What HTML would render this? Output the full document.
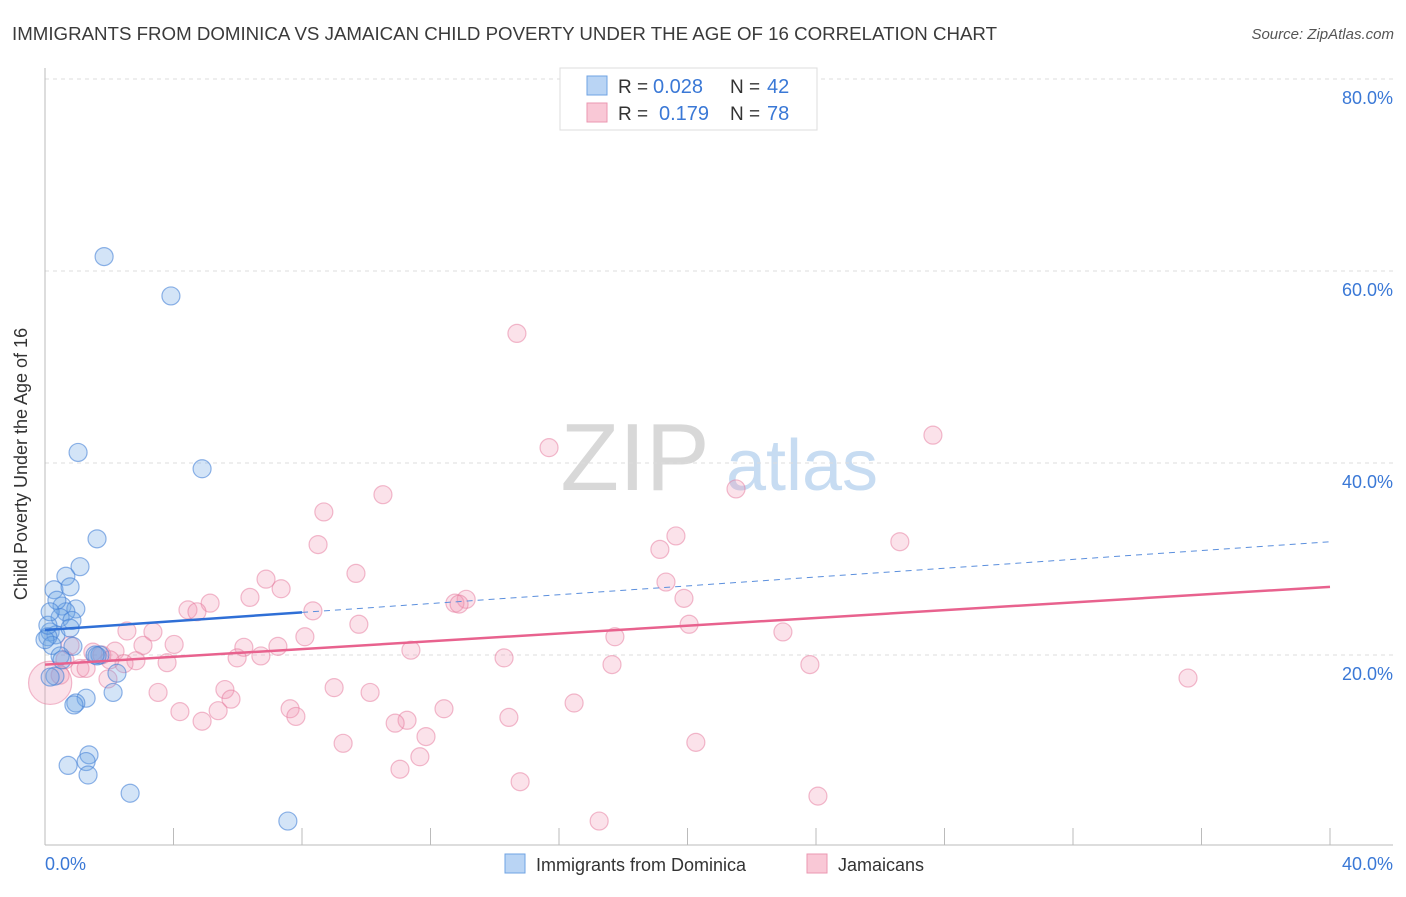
<!DOCTYPE html>
<html><head><meta charset="utf-8"><style>
body{margin:0;background:#fff;font-family:"Liberation Sans",sans-serif;}
svg text{font-family:"Liberation Sans",sans-serif;}
</style></head><body>
<svg id="chart" width="1406" height="892" viewBox="0 0 1406 892">
<text x="12" y="40" font-size="18" fill="#3a3a3a" textLength="985" lengthAdjust="spacingAndGlyphs">IMMIGRANTS FROM DOMINICA VS JAMAICAN CHILD POVERTY UNDER THE AGE OF 16 CORRELATION CHART</text>
<text x="1394" y="39" font-size="15" fill="#555" font-style="italic" text-anchor="end">Source: ZipAtlas.com</text>
<g><text x="635" y="490" font-size="96" fill="#d8d8d8" font-family="Liberation Serif" text-anchor="middle">ZIP</text><text x="802" y="490" font-size="72" fill="#c7dcf2" text-anchor="middle">atlas</text></g>
<g id="grid"></g>
<g id="axes"></g>
<g id="marks"></g>
<g id="trends"></g>
<text x="18" y="455" font-size="18" fill="#333" transform="rotate(-90 27 455)" text-anchor="middle">Child Poverty Under the Age of 16</text>
<g>
<rect x="560" y="68" width="257" height="62" fill="#fff" stroke="#ddd"/>
<rect x="587" y="76" width="20" height="19" fill="#b9d4f4" stroke="#6fa3e3"/>
<rect x="587" y="103" width="20" height="19" fill="#f9c8d6" stroke="#eb97b1"/>
<text x="618" y="93" font-size="19" fill="#333">R =</text><text x="653" y="93" font-size="20" fill="#3a78d6">0.028</text>
<text x="730" y="93" font-size="19" fill="#333">N =</text><text x="767" y="93" font-size="20" fill="#3a78d6">42</text>
<text x="618" y="120" font-size="19" fill="#333">R =</text><text x="659" y="120" font-size="20" fill="#3a78d6">0.179</text>
<text x="730" y="120" font-size="19" fill="#333">N =</text><text x="767" y="120" font-size="20" fill="#3a78d6">78</text>
</g>
<g>
<rect x="505" y="854" width="20" height="19" fill="#b9d4f4" stroke="#6fa3e3"/>
<text x="536" y="871" font-size="18" fill="#333">Immigrants from Dominica</text>
<rect x="807" y="854" width="20" height="19" fill="#f9c8d6" stroke="#eb97b1"/>
<text x="838" y="871" font-size="18" fill="#333">Jamaicans</text>
</g>
</svg>
<script>
const yTicks=[20,40,60,80];
const yTickLabels=["20.0%","40.0%","60.0%","80.0%"];
const xTickLabels=["0.0%","40.0%"];
const blueX=[1.84,3.92,1.03,4.89,1.62,1.09,0.65,0.28,0.78,0.53,0.96,0.65,0.47,0.84,0.16,0.34,0.09,0.78,0.22,0.87,1.71,1.62,0.47,0.31,0.16,2.24,2.12,1.28,0.96,0.9,1.37,1.28,0.72,1.34,2.65,7.56,0.0,0.09,0.37,0.53,1.56,0.16];
const blueY=[61.5,57.4,41.1,39.4,32.1,29.2,28.2,26.8,27.1,25.1,24.8,24.5,23.9,23.6,22.4,22.1,21.9,22.8,21.0,20.9,20.0,19.9,19.9,17.8,17.7,18.1,16.1,15.5,15.0,14.8,9.6,8.9,8.5,7.5,5.6,2.7,21.6,23.1,25.7,19.5,20.0,24.5];
const pinkX=[14.69,15.69,27.64,10.52,21.51,8.68,8.5,19.64,19.14,26.61,9.68,6.88,7.35,19.33,6.38,19.89,13.11,12.76,12.89,5.14,4.45,4.73,8.34,9.77,2.55,3.36,20.05,22.97,17.74,8.09,3.05,4.02,6.19,7.25,11.39,2.18,1.49,1.77,6.72,5.98,2.83,3.8,2.46,14.29,17.65,23.81,1.09,1.28,1.96,35.58,9.0,5.6,3.52,10.12,5.79,16.47,7.63,12.42,4.2,7.81,5.39,4.89,14.44,11.27,10.9,11.86,9.28,20.26,11.67,11.05,14.79,24.06,17.25,0.47,0.62,2.02,0.78,0.16];
const pinkY=[53.5,41.6,42.9,36.7,37.3,34.9,31.5,32.4,31.0,31.8,28.5,27.9,26.9,27.6,26.0,25.9,25.8,25.4,25.3,25.4,24.7,24.5,24.6,23.2,22.5,22.4,23.2,22.4,21.9,21.9,21.0,21.1,20.8,20.9,20.5,20.4,20.3,20.0,19.9,19.7,19.4,19.2,19.1,19.7,19.0,19.0,18.6,18.6,17.5,17.6,16.6,16.4,16.1,16.1,15.4,15.0,14.4,14.4,14.1,13.6,14.2,13.1,13.5,13.2,12.9,11.5,10.8,10.9,9.4,8.1,6.8,5.3,2.7,17.9,19.5,19.5,21.0,17.1];
const pinkSize=[1,1,1,1,1,1,1,1,1,1,1,1,1,1,1,1,1,1,1,1,1,1,1,1,1,1,1,1,1,1,1,1,1,1,1,1,1,1,1,1,1,1,1,1,1,1,1,1,1,1,1,1,1,1,1,1,1,1,1,1,1,1,1,1,1,1,1,1,1,1,1,1,1,1,1,1,1,2.4];
const blueTrend=[22.6,31.8];
const pinkTrend=[19.0,27.1];
const blueSolidEnd=8.0;

const NS="http://www.w3.org/2000/svg";
const xs=v=>45+v*32.125;
const ys=v=>847-v*9.6;
function mk(parent,tag,attrs){const e=document.createElementNS(NS,tag);for(const k in attrs)e.setAttribute(k,attrs[k]);document.getElementById(parent).appendChild(e);return e;}

yTicks.forEach((t,i)=>{
  const g=mk('grid','line',{x1:45,x2:1393,y1:ys(t),y2:ys(t),stroke:'#ddd','stroke-dasharray':'4,4'});
  
  
  const l=mk('axes','text',{x:1393,y:ys(t)+25,'font-size':18,fill:'#3a78d6','text-anchor':'end'});
  l.textContent=yTickLabels[i];
  
  
});
let a=mk('axes','line',{x1:45,x2:45,y1:68,y2:845,stroke:'#bbb'});


a=mk('axes','line',{x1:45,x2:1393,y1:845,y2:845,stroke:'#bbb'});


for(let v=4;v<=40;v+=4){
  const t=mk('axes','line',{x1:xs(v),x2:xs(v),y1:828,y2:845,stroke:'#bbb'});
  
  
}
[[0,'start'],[40,'end']].forEach((p,i)=>{
  const l=mk('axes','text',{x:i?1393:45,y:870,'font-size':18,fill:'#3a78d6','text-anchor':p[1]});
  l.textContent=xTickLabels[i];
  
  
});
pinkX.forEach((x,i)=>{
  const c=mk('marks','circle',{cx:xs(x),cy:ys(pinkY[i]),r:9*pinkSize[i],fill:'rgba(242,150,180,0.28)',stroke:'rgba(230,120,155,0.5)','stroke-width':1.2});
  
  
});
blueX.forEach((x,i)=>{
  const c=mk('marks','circle',{cx:xs(x),cy:ys(blueY[i]),r:9,fill:'rgba(110,165,230,0.3)',stroke:'rgba(70,130,215,0.6)','stroke-width':1.2});
  
  
});
const by=x=>blueTrend[0]+(blueTrend[1]-blueTrend[0])*x/40;
let t=mk('trends','line',{x1:xs(0),y1:ys(by(0)),x2:xs(blueSolidEnd),y2:ys(by(blueSolidEnd)),stroke:'#2f6fd6','stroke-width':2.5});


t=mk('trends','line',{x1:xs(blueSolidEnd),y1:ys(by(blueSolidEnd)),x2:xs(40),y2:ys(by(40)),stroke:'#5b8fdd','stroke-width':1,'stroke-dasharray':'6,5'});


t=mk('trends','line',{x1:xs(0),y1:ys(pinkTrend[0]),x2:xs(40),y2:ys(pinkTrend[1]),stroke:'#e8628e','stroke-width':2.5});


</script>
</body></html>
